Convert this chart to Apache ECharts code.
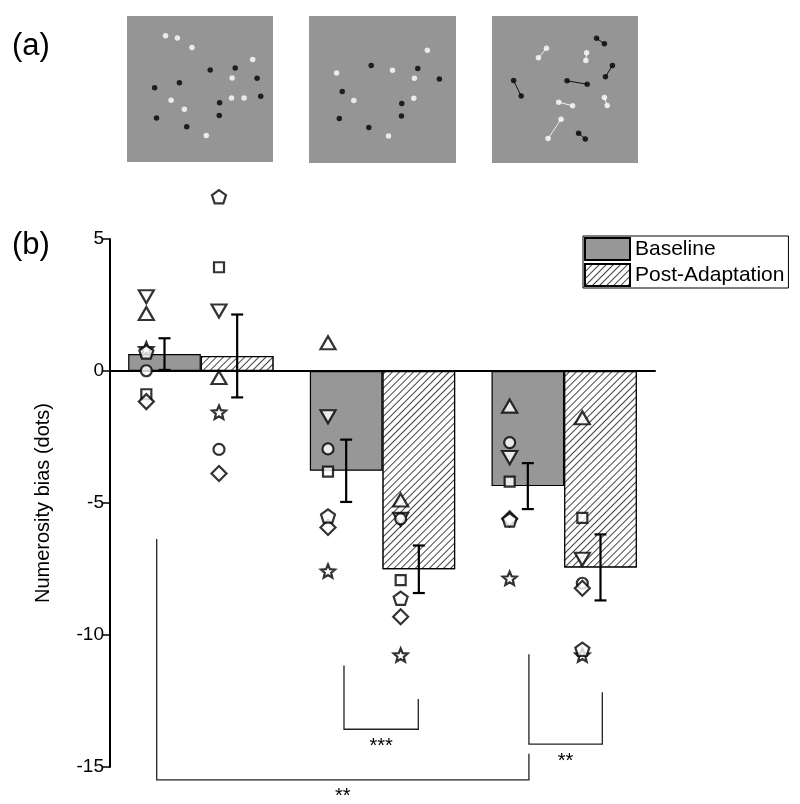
<!DOCTYPE html>
<html><head><meta charset="utf-8">
<script src="https://cdn.jsdelivr.net/npm/echarts@6/dist/echarts.min.js"></script>
<style>html,body{margin:0;padding:0;background:#fff}#c{width:800px;height:804px}</style>
</head><body><div id="c"></div>
<script>
// ---------- data ----------
const groups = ['Condition 1', 'Condition 2', 'Condition 3'];
const conditionNames = ['Baseline', 'Post-Adaptation'];
const baselineMeans = [0.64, -3.78, -4.36];
const postMeans = [0.57, -7.51, -7.44];
const baselineErr = [0.60, 1.18, 0.87];
const postErr = [1.57, 0.90, 1.25];
// individual subjects, order: [g1 base, g1 post, g2 base, g2 post, g3 base, g3 post]
const subjTriUp   = [2.18, -0.25, 1.07, -4.89, -1.33, -1.77];
const subjTriDown = [2.81, 2.27, -1.73, -5.62, -3.28, -7.13];
const subjCircle  = [0.01, -2.97, -2.95, -5.60, -2.71, -8.04];
const subjSquare  = [-0.88, 3.93, -3.81, -7.92, -4.19, -5.56];
const subjPentagon= [0.72, 6.60, -5.49, -8.61, -5.64, -10.54];
const subjDiamond = [-1.16, -3.88, -5.93, -9.31, -5.60, -8.23];
const subjStar    = [0.84, -1.56, -7.58, -10.76, -7.85, -10.76];
const yTicks = [-15, -10, -5, 0, 5];
const yAxisTitle = 'Numerosity bias (dots)';
// significance brackets: [leftX, leftTop, rightX, rightTop, bottom] in data units
const sigBrackets = [
  [0.257, -6.36, 2.306, -14.5, -15.49],
  [1.288, -11.16, 1.697, -12.42, -13.57],
  [2.306, -10.73, 2.71, -12.17, -14.13]
];
const sigLabels = ['**', '***', '**'];
// panel (a) stimuli, normalized positions [x, y from top]
const p1White = [[0.264,0.136],[0.345,0.150],[0.445,0.216],[0.861,0.298],[0.720,0.425],[0.302,0.577],[0.393,0.639],[0.716,0.561],[0.802,0.561],[0.543,0.818]];
const p1Black = [[0.570,0.370],[0.741,0.357],[0.891,0.427],[0.359,0.457],[0.189,0.491],[0.916,0.550],[0.634,0.595],[0.632,0.682],[0.202,0.698],[0.409,0.759]];
const p2White = [[0.805,0.233],[0.188,0.387],[0.568,0.369],[0.717,0.423],[0.305,0.575],[0.713,0.559],[0.541,0.817]];
const p2Black = [[0.423,0.337],[0.740,0.357],[0.887,0.428],[0.226,0.514],[0.631,0.595],[0.629,0.681],[0.206,0.697],[0.407,0.758]];
const p3BlackPairs = [[[0.716,0.152],[0.770,0.189]],[[0.825,0.336],[0.777,0.414]],[[0.148,0.439],[0.200,0.545]],[[0.514,0.441],[0.652,0.464]],[[0.593,0.798],[0.639,0.836]]];
const p3WhitePairs = [[[0.373,0.220],[0.318,0.284]],[[0.648,0.250],[0.643,0.302]],[[0.457,0.586],[0.552,0.611]],[[0.770,0.555],[0.789,0.609]],[[0.473,0.702],[0.384,0.834]]];

// ---------- chart ----------
const FONT = '"Liberation Sans", Arial, Helvetica, sans-serif';
const chart = echarts.init(document.getElementById('c'));
const barHalf = 0.2, markerShift = -0.1;
const condX = [], meansAll = [], errAll = [];
groups.forEach((g, i) => {
  condX.push(i + 0.5 - barHalf, i + 0.5 + barHalf);
  meansAll.push(baselineMeans[i], postMeans[i]);
  errAll.push(baselineErr[i], postErr[i]);
});
const pentagonPath = 'path://M0,-1L0.951,-0.309L0.588,0.809L-0.588,0.809L-0.951,-0.309Z';
const starPath = 'path://M0,-1L0.2645,-0.364L0.951,-0.309L0.428,0.139L0.588,0.809L0,0.45L-0.588,0.809L-0.428,0.139L-0.951,-0.309L-0.2645,-0.364Z';
const subjects = [
  { vals: subjTriUp, symbol: 'triangle', rot: 0, size: [15, 13], z: 5 },
  { vals: subjTriDown, symbol: 'triangle', rot: 180, size: [15, 13], z: 5 },
  { vals: subjCircle, symbol: 'circle', rot: 0, size: 11, z: 5 },
  { vals: subjSquare, symbol: 'rect', rot: 0, size: 10, z: 5 },
  { vals: subjPentagon, symbol: pentagonPath, rot: 0, size: 14, z: 6 },
  { vals: subjDiamond, symbol: 'diamond', rot: 0, size: 15, z: 5 },
  { vals: subjStar, symbol: starPath, rot: 0, size: 14, z: 5 }
];
const markerStyle = { color: '#fff', borderColor: '#000', borderWidth: 2.2 };
const scatterSeries = subjects.map((s) => ({
  type: 'scatter', xAxisIndex: 1, yAxisIndex: 0, z: s.z, clip: false,
  symbol: s.symbol, symbolSize: s.size, symbolRotate: s.rot, symbolKeepAspect: true,
  itemStyle: markerStyle, silent: true,
  data: s.vals.map((v, j) => [condX[j] + markerShift, v])
}));
const lineSty = { stroke: '#000', lineWidth: 2.2 };
const errorSeries = {
  type: 'custom', xAxisIndex: 1, yAxisIndex: 0, z: 7, silent: true, clip: false,
  data: condX.map((x, j) => [x, meansAll[j], errAll[j]]),
  renderItem: (params, api) => {
    const x = api.value(0), m = api.value(1), e = api.value(2);
    const t = api.coord([x, m + e]), b = api.coord([x, m - e]);
    const hw = 6;
    return { type: 'group', children: [
      { type: 'line', shape: { x1: t[0], y1: t[1], x2: b[0], y2: b[1] }, style: lineSty },
      { type: 'line', shape: { x1: t[0] - hw, y1: t[1], x2: t[0] + hw, y2: t[1] }, style: lineSty },
      { type: 'line', shape: { x1: b[0] - hw, y1: b[1], x2: b[0] + hw, y2: b[1] }, style: lineSty }
    ]};
  }
};
const bracketSeries = {
  type: 'custom', xAxisIndex: 1, yAxisIndex: 0, z: 6, silent: true, clip: false,
  data: sigBrackets,
  renderItem: (params, api) => {
    const a = api.coord([api.value(0), api.value(1)]);
    const a2 = api.coord([api.value(0), api.value(4)]);
    const c = api.coord([api.value(2), api.value(3)]);
    const c2 = api.coord([api.value(2), api.value(4)]);
    return { type: 'group', children: [
      { type: 'polyline', shape: { points: [a, a2, c2, c] }, style: { stroke: '#222', lineWidth: 1.3, fill: null } },
      { type: 'text', x: (a2[0] + c2[0]) / 2, y: a2[1] + 17,
        style: { text: sigLabels[params.dataIndex], font: '20px ' + FONT, fill: '#000', align: 'center', verticalAlign: 'middle' } }
    ]};
  }
};
const hatch = { symbol: 'rect', symbolSize: 1, color: '#444', backgroundColor: '#fff', dashArrayX: [1, 0], dashArrayY: [1, 4], rotation: -Math.PI / 4 };

const panelGrids = [
  { left: 127, top: 16, width: 146, height: 146 },
  { left: 309, top: 16, width: 147, height: 147 },
  { left: 492, top: 16, width: 146, height: 147 }
].map(g => Object.assign(g, { show: true, backgroundColor: '#959595', borderWidth: 0 }));
const dotSeries = (data, color, pi) => ({
  type: 'scatter', xAxisIndex: 2 + pi, yAxisIndex: 1 + pi, symbolSize: 5.5, silent: true,
  itemStyle: { color: color, borderWidth: 0 }, data: data, z: 4
});
const pairLines = (pairs, color, pi) => ({
  type: 'lines', coordinateSystem: 'cartesian2d', xAxisIndex: 2 + pi, yAxisIndex: 1 + pi, silent: true, z: 3,
  lineStyle: { color: color, width: 1, opacity: 1 }, data: pairs.map(p => ({ coords: p }))
});
const flat = arr => arr.reduce((a, p) => a.concat(p), []);

const option = {
  animation: false,
  textStyle: { fontFamily: FONT },
  grid: [{ left: 110, right: 145, top: 239, bottom: 37 }].concat(panelGrids),
  xAxis: [
    { type: 'category', gridIndex: 0, data: groups, axisLine: { onZero: true, lineStyle: { color: '#000', width: 2 } }, axisTick: { show: false }, axisLabel: { show: false } },
    { type: 'value', gridIndex: 0, min: 0, max: 3, show: false },
    { type: 'value', gridIndex: 1, min: 0, max: 1, show: false },
    { type: 'value', gridIndex: 2, min: 0, max: 1, show: false },
    { type: 'value', gridIndex: 3, min: 0, max: 1, show: false }
  ],
  yAxis: [
    { type: 'value', gridIndex: 0, min: yTicks[0], max: yTicks[yTicks.length - 1], interval: 5,
      name: yAxisTitle, nameLocation: 'middle', nameGap: 57, nameRotate: 90,
      nameTextStyle: { fontSize: 20, color: '#000', fontFamily: FONT },
      axisLine: { show: true, lineStyle: { color: '#000', width: 2 } },
      axisTick: { show: true, length: 7, lineStyle: { color: '#000', width: 1.5 } },
      axisLabel: { fontSize: 19, color: '#000', margin: 6, fontFamily: FONT },
      splitLine: { show: false } },
    { type: 'value', gridIndex: 1, min: 0, max: 1, inverse: true, show: false },
    { type: 'value', gridIndex: 2, min: 0, max: 1, inverse: true, show: false },
    { type: 'value', gridIndex: 3, min: 0, max: 1, inverse: true, show: false }
  ],
  legend: {
    data: conditionNames, orient: 'vertical', left: 583, top: 236, icon: 'rect',
    itemWidth: 45, itemHeight: 22, itemGap: 2, padding: [1, 4, 1, 1],
    borderColor: '#000', borderWidth: 1, selectedMode: false,
    textStyle: { fontSize: 21, color: '#000', fontFamily: FONT }
  },
  graphic: [
    { type: 'text', left: 12, top: 31, style: { text: '(a)', font: '31px ' + FONT, fill: '#000' } },
    { type: 'text', left: 12, top: 230, style: { text: '(b)', font: '31px ' + FONT, fill: '#000' } }
  ],
  series: [
    { name: conditionNames[0], type: 'bar', xAxisIndex: 0, yAxisIndex: 0, data: baselineMeans, barWidth: '40%', barGap: '0%', z: 2,
      itemStyle: { color: '#979797', borderColor: '#000', borderWidth: 1.2 } },
    { name: conditionNames[1], type: 'bar', xAxisIndex: 0, yAxisIndex: 0, data: postMeans, barWidth: '40%', barGap: '0%', z: 2,
      itemStyle: { color: '#fff', borderColor: '#000', borderWidth: 1.2, decal: hatch } },
    errorSeries, bracketSeries
  ].concat(scatterSeries).concat([
    pairLines(p3BlackPairs, '#111', 2), pairLines(p3WhitePairs, '#f0f0f0', 2),
    dotSeries(p1White, '#fff', 0), dotSeries(p1Black, '#000', 0),
    dotSeries(p2White, '#fff', 1), dotSeries(p2Black, '#000', 1),
    dotSeries(flat(p3WhitePairs), '#fff', 2), dotSeries(flat(p3BlackPairs), '#000', 2)
  ])
};
chart.setOption(option);
</script></body></html>
